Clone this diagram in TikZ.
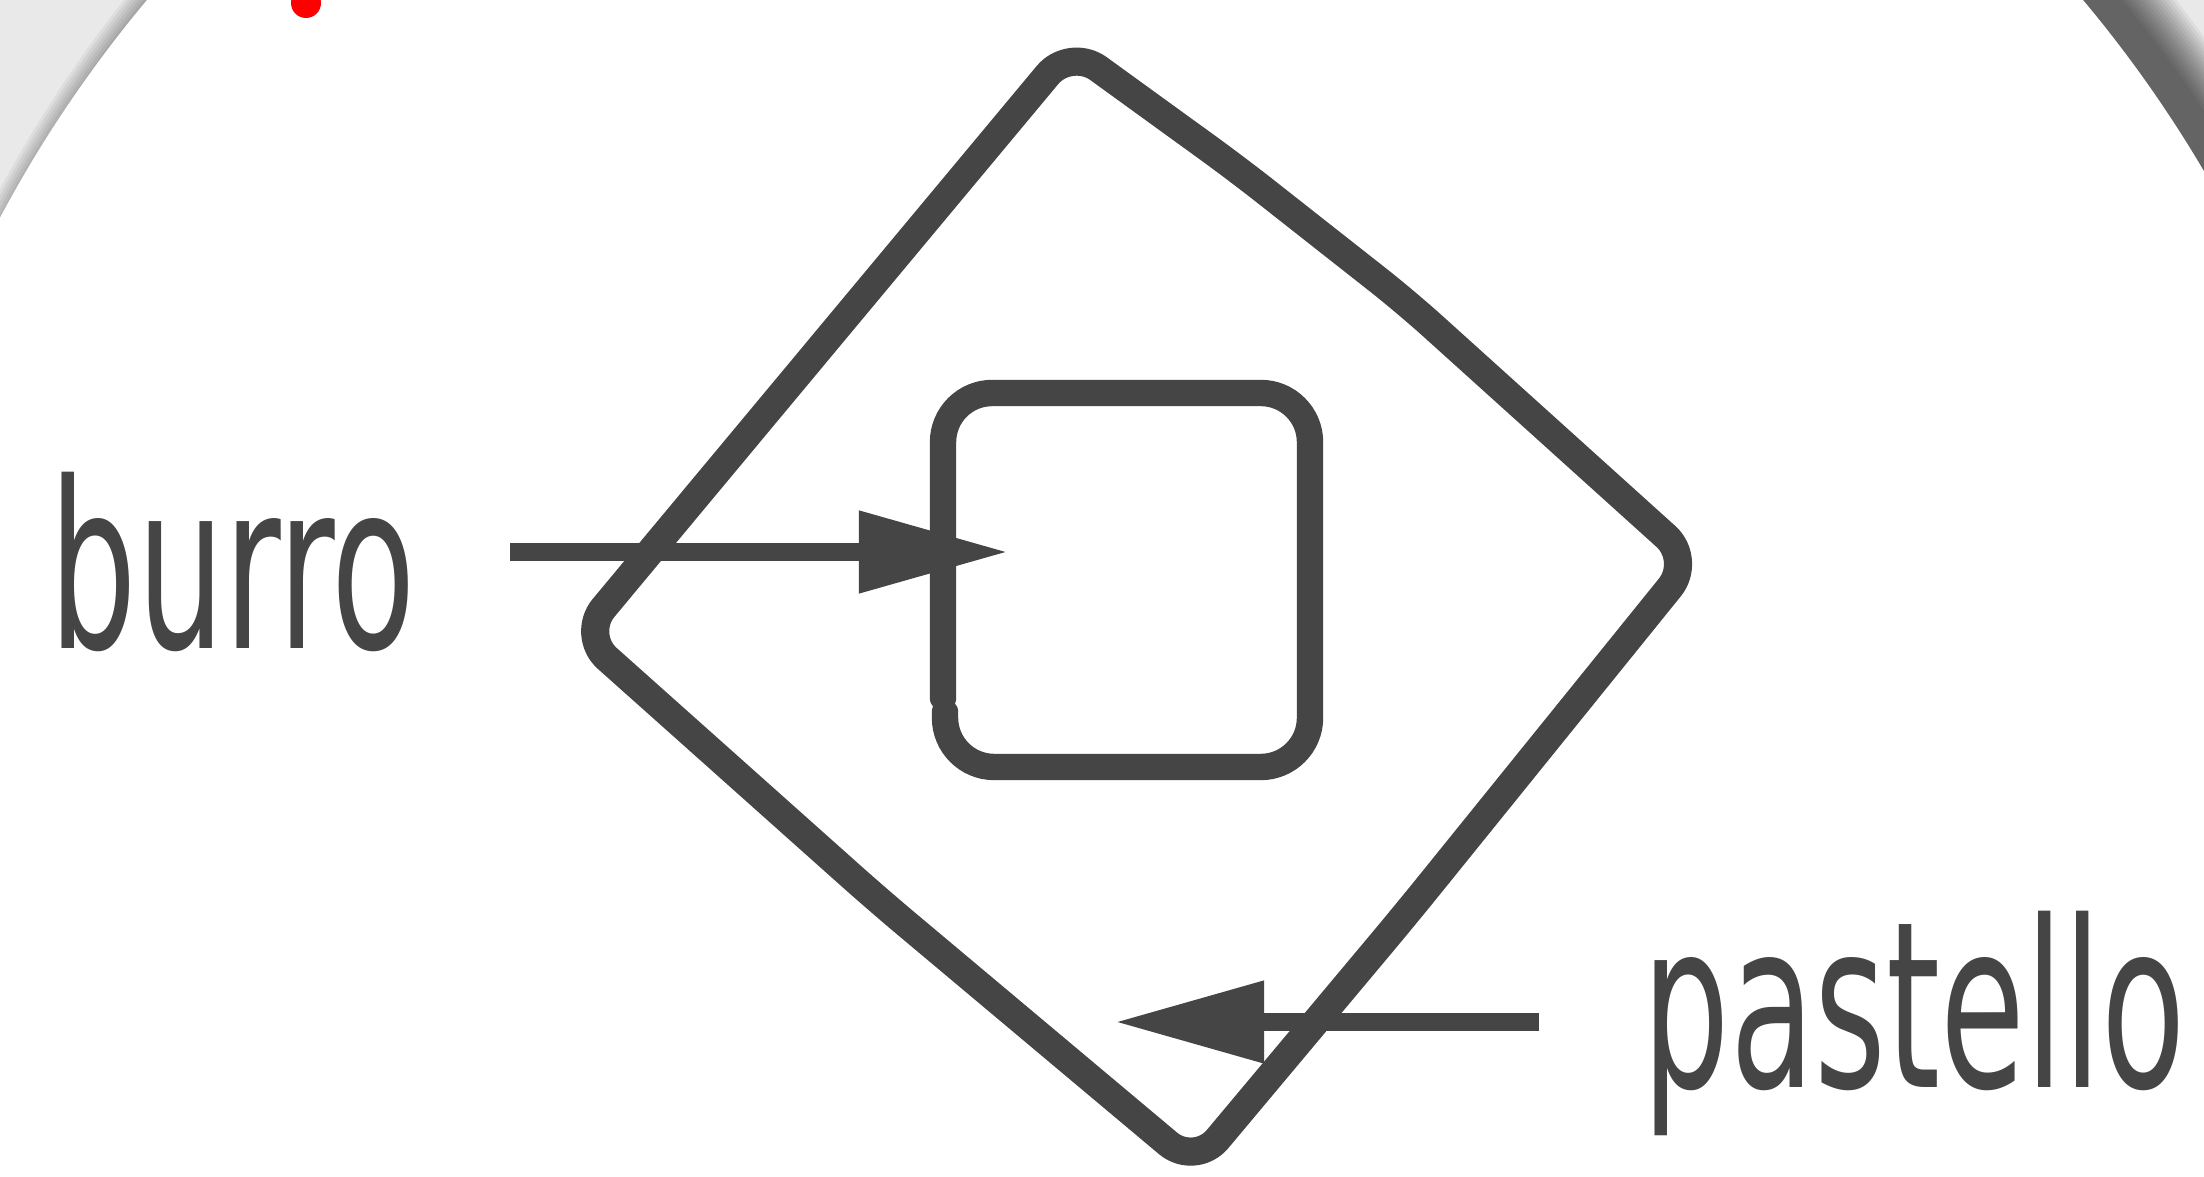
\documentclass[tikz,border=0pt]{standalone}
\usepackage{fontspec}
\newfontfamily\handfont[FakeStretch=0.66]{DejaVu Sans Condensed}
\usetikzlibrary{arrows.meta, positioning}
\definecolor{ink}{HTML}{454545}
\definecolor{paper}{HTML}{E9E9E9}

\begin{document}
\begin{tikzpicture}[
    x=0.01cm, y=-0.01cm,
    pen/.style={draw=ink, line width=8pt, line join=round, line cap=round, rounded corners=10pt},
    box/.style={draw=ink, line width=7.5pt, line cap=round, rounded corners=14pt},
    pointer/.style={draw=ink, line width=5pt, -{Triangle[length=1.49cm, width=0.78cm]}},
    word/.style={text=ink, font=\handfont\fontsize{66}{66}\selectfont, inner sep=0pt}
]
    \path[use as bounding box, clip] (0,0) rectangle (2204,1177);

    % Paper and disc
    \fill[paper] (0,0) rectangle (2204,1177);
    \foreach \k in {0,...,14}
        \fill[black, opacity=0.05] (1150,806) circle[radius=12.62cm+0.03cm*\k];
    \fill[white] (1115,811) circle[radius=12.62cm];
    \fill[red] (306,3) circle[radius=0.15cm];

    % Outer tilted square
    \draw[pen] (835,330) -- (1070,48) -- (1237,169) -- (1406,302) -- (1692,560)
        -- (1406,914) -- (1195,1166) -- (878,900) -- (581,635) -- cycle;

    % Inner square
    \draw[box] (945,712) -- (945,767) -- (1310,767) -- (1310,393) -- (943,393) -- (943,698);

    % Arrows
    \coordinate (burrotail) at (510,552);
    \coordinate (burrohead) at (1008,552);
    \coordinate (pastellotail) at (1539,1022);
    \coordinate (pastellohead) at (1115,1022);
    \draw[pointer] (burrotail) -- (burrohead);
    \draw[pointer] (pastellotail) -- (pastellohead);

    % Labels
    \node[word, anchor=base west] (burro) at (49,649) {burro};
    \node[word, anchor=base west] (pastello) at (1642,1087) {pastello};
\end{tikzpicture}
\end{document}
